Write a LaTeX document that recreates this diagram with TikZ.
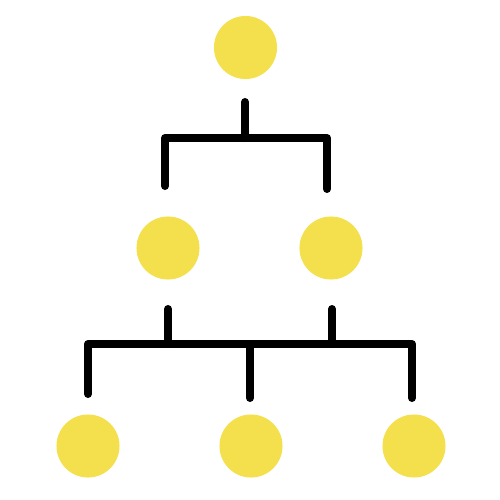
\documentclass[tikz,border=0pt]{standalone}
\definecolor{dotyellow}{HTML}{F4DF4C}
\begin{document}
\begin{tikzpicture}[x=0.01cm,y=-0.01cm,
  dot/.style={circle,fill=dotyellow,draw=none,minimum size=0.63cm,inner sep=0pt},
  bracket/.style={line width=0.08cm,line cap=round,line join=round,black}]
\useasboundingbox (0,0) rectangle (500,500);
\node[dot] (r) at (245.5,47.5) {};
\node[dot] (m1) at (168,248) {};
\node[dot] (m2) at (331,248) {};
\node[dot] (b1) at (88,446) {};
\node[dot] (b2) at (251,446) {};
\node[dot] (b3) at (414,446) {};
% top bracket
\coordinate (t0) at (245,102);
\coordinate (t1) at (245,138);
\coordinate (tl) at (165,138);
\coordinate (tr) at (327,138);
\coordinate (tle) at (165,186);
\coordinate (tre) at (327,189);
\draw[bracket] (t0) -- (t1);
\draw[bracket] (tle) -- (tl) -- (tr) -- (tre);
% lower bracket
\coordinate (u1) at (168,309);
\coordinate (u1e) at (168,344);
\coordinate (u2) at (332,309);
\coordinate (u2e) at (332,344);
\coordinate (hl) at (88,344);
\coordinate (hr) at (412,344);
\coordinate (hm) at (250,344);
\coordinate (l1) at (88,394);
\coordinate (l2) at (250,398);
\coordinate (l3) at (412,398);
\draw[bracket] (u1) -- (u1e);
\draw[bracket] (u2) -- (u2e);
\draw[bracket] (l1) -- (hl) -- (hr) -- (l3);
\draw[bracket] (hm) -- (l2);
\end{tikzpicture}
\end{document}
